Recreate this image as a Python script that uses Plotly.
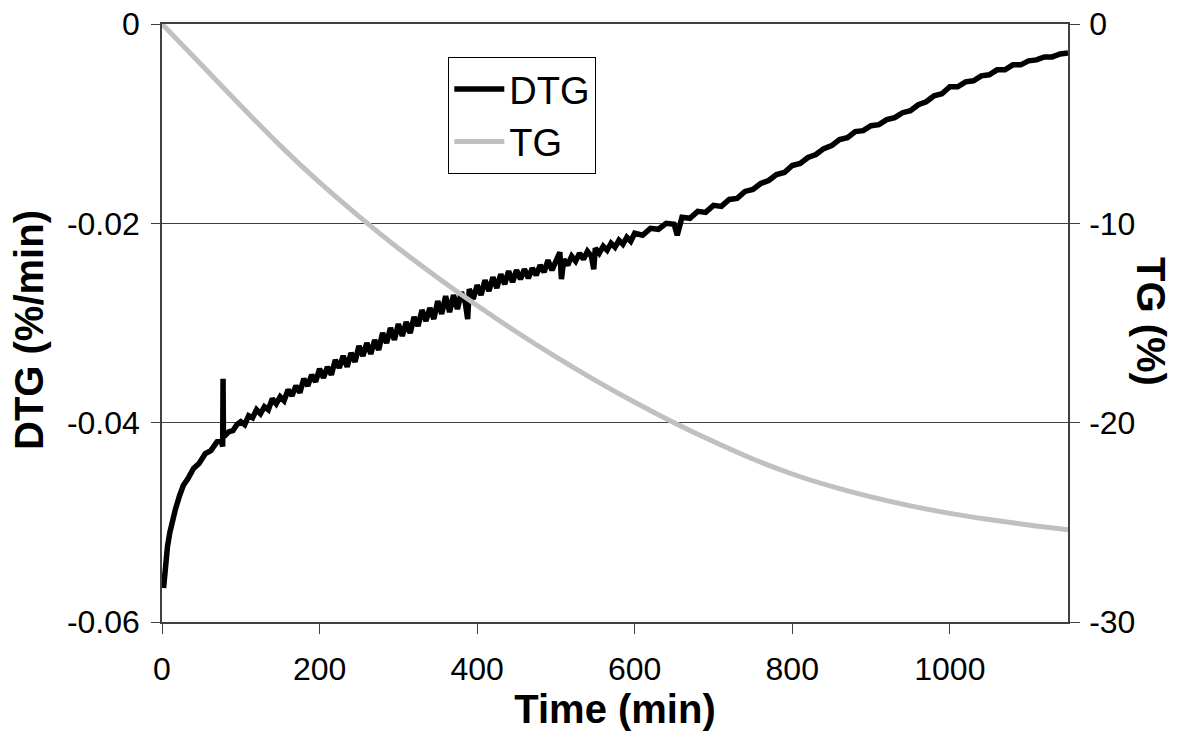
import plotly.graph_objects as go

# ---- data ----
time_dtg = [2, 3, 4, 5, 7, 10, 13, 17, 22, 27, 33, 40, 47, 55, 62, 70, 75, 77, 77.5, 78, 80, 85, 90, 95,
            100, 105, 110, 115, 120, 125, 130, 135, 140, 145, 150, 155, 160, 165, 170, 175, 180, 185, 190, 195,
            200, 205, 210, 215, 220, 225, 230, 235, 240, 245, 250, 255, 260, 265, 270, 275, 280, 285, 290, 295,
            300, 305, 310, 315, 320, 325, 330, 335, 340, 345, 350, 355, 360, 365, 370, 375, 380, 385, 388, 390, 395,
            400, 405, 410, 415, 420, 425, 430, 435, 440, 445, 450, 455, 460, 465, 470, 475, 480, 485, 490, 495,
            500, 505, 507, 510, 515, 520, 525, 530, 535, 540, 545, 548, 550, 555, 560, 565, 570, 575, 580, 585, 590, 595,
            600, 610, 620, 630, 640, 650, 654, 660, 670, 680, 690, 700, 710, 720, 730, 740, 750, 760, 770, 780, 790,
            800, 810, 820, 830, 840, 850, 860, 870, 880, 890, 900, 910, 920, 930, 940, 950, 960, 970, 980, 990,
            1000, 1010, 1020, 1030, 1040, 1050, 1060, 1070, 1080, 1090, 1100, 1110, 1120, 1130, 1140, 1150]

dtg = [-0.0566, -0.0556, -0.0545, -0.0537, -0.0524, -0.0510, -0.0499, -0.0487, -0.0474, -0.0463, -0.0456,
       -0.0446, -0.0441, -0.0431, -0.0428, -0.0419, -0.0418, -0.0424, -0.0356, -0.0414, -0.0413, -0.0409,
       -0.0408, -0.0402,
       -0.0399, -0.0402, -0.0393, -0.0395, -0.0387, -0.0391, -0.0384, -0.0387, -0.0376, -0.0381, -0.0374,
       -0.0378, -0.0367, -0.0373, -0.0363, -0.0370, -0.0356, -0.0363, -0.0352, -0.0359,
       -0.0346, -0.0355, -0.0344, -0.0352, -0.0337, -0.0345, -0.0333, -0.0344, -0.0330, -0.0339, -0.0323,
       -0.0333, -0.0320, -0.0331, -0.0317, -0.0327, -0.0310, -0.0320, -0.0305, -0.0317,
       -0.0301, -0.0313, -0.0299, -0.0310, -0.0294, -0.0303, -0.0287, -0.0298, -0.0285, -0.0296, -0.0278,
       -0.0291, -0.0273, -0.0289, -0.0272, -0.0286, -0.0269, -0.0280, -0.0296, -0.0266, -0.0276,
       -0.0262, -0.0272, -0.0257, -0.0268, -0.0254, -0.0265, -0.0251, -0.0261, -0.0248, -0.0259, -0.0247,
       -0.0256, -0.0246, -0.0255, -0.0245, -0.0252, -0.0242, -0.0249, -0.0237, -0.0247,
       -0.0238, -0.0229, -0.0256, -0.0236, -0.0242, -0.0233, -0.0238, -0.0230, -0.0236, -0.0228, -0.0233,
       -0.0246, -0.0225, -0.0230, -0.0223, -0.0227, -0.0220, -0.0224, -0.0217, -0.0221, -0.0214, -0.0218,
       -0.0210, -0.0212, -0.0205, -0.0206, -0.0200, -0.0201, -0.0212, -0.0194, -0.0195, -0.0188, -0.0189,
       -0.0182, -0.0183, -0.0176, -0.0175, -0.0168, -0.0166, -0.0160, -0.0157, -0.0151, -0.0149,
       -0.0142, -0.0140, -0.0134, -0.0131, -0.0125, -0.0122, -0.0116, -0.0114, -0.0108, -0.0107, -0.0102,
       -0.0101, -0.0096, -0.0094, -0.0089, -0.0087, -0.0081, -0.0078, -0.0072, -0.0070,
       -0.0063, -0.0063, -0.0058, -0.0057, -0.0052, -0.0051, -0.0046, -0.0046, -0.0041, -0.0041, -0.0037,
       -0.0036, -0.0033, -0.0033, -0.0030, -0.0029]

time_tg = [0, 50, 100, 150, 200, 250, 300, 350, 400, 450, 500, 550, 600, 650, 700, 750, 800, 850, 900,
           950, 1000, 1050, 1100, 1150]
tg = [0.0, -2.05, -4.10, -6.10, -7.95, -9.65, -11.25, -12.725, -14.125, -15.45, -16.7, -17.875, -18.975,
      -20.0, -20.95, -21.825, -22.575, -23.2, -23.725, -24.175, -24.55, -24.86, -25.135, -25.375]

x_ticks = [0, 200, 400, 600, 800, 1000]
y_ticks = [0, -0.02, -0.04, -0.06]
y_tick_labels = ["0", "-0.02", "-0.04", "-0.06"]
y2_ticks = [0, -10, -20, -30]
y2_tick_labels = ["0", "-10", "-20", "-30"]

FONT = "Arial, Liberation Sans, sans-serif"
AXC = "#404040"

fig = go.Figure()
fig.add_trace(go.Scatter(x=time_dtg, y=dtg, mode="lines", name="DTG",
                         line=dict(color="black", width=5.5), yaxis="y"))
fig.add_trace(go.Scatter(x=time_tg, y=tg, mode="lines", name="TG", line_shape="spline",
                         line=dict(color="#c0c0c0", width=5), yaxis="y2"))

fig.update_layout(
    width=1177, height=728,
    margin=dict(l=154, r=117, t=16, b=114, autoexpand=False),
    paper_bgcolor="white", plot_bgcolor="white",
    font=dict(family=FONT, color="black", size=32),
    showlegend=True,
    legend=dict(x=0.316, y=0.945, xanchor="left", yanchor="top",
                bgcolor="white", bordercolor="black", borderwidth=1,
                itemwidth=50,
                font=dict(size=38, family=FONT)),
    xaxis=dict(range=[0, 1150], tickvals=x_ticks, ticks="outside", ticklen=10, tickcolor=AXC,
               showline=True, linecolor=AXC, linewidth=1.5, mirror=True, showgrid=False, zeroline=False,
               tickfont=dict(size=32), ticklabelstandoff=8, automargin=False, ticklabeloverflow="allow",
               title=dict(text="<b>Time (min)</b>", font=dict(size=40), standoff=0)),
    yaxis=dict(range=[-0.06, 0], tickvals=y_ticks, ticktext=y_tick_labels, ticks="outside", ticklen=9,
               tickcolor=AXC, showline=True, linecolor=AXC, linewidth=1.5, showgrid=True,
               gridcolor=AXC, gridwidth=1, zeroline=False, tickfont=dict(size=32),
               ticklabelstandoff=5, automargin=False, ticklabeloverflow="allow"),
    yaxis2=dict(range=[-30, 0], tickvals=y2_ticks, ticktext=y2_tick_labels, overlaying="y", side="right",
                ticks="outside", ticklen=10, tickcolor=AXC, showline=True, linecolor=AXC, linewidth=1.5,
                showgrid=False, zeroline=False, tickfont=dict(size=32), ticklabelstandoff=3,
                automargin=False, ticklabeloverflow="allow"),
    annotations=[
        dict(text="<b>DTG (%/min)</b>", textangle=-90, xref="paper", yref="paper",
             x=0.0, xshift=-133, y=0.5, yshift=-7, xanchor="center", yanchor="middle",
             showarrow=False, font=dict(size=40, family=FONT)),
        dict(text="<b>TG (%)</b>", textangle=90, xref="paper", yref="paper",
             x=1.0, xshift=83, y=0.5, yshift=2, xanchor="center", yanchor="middle",
             showarrow=False, font=dict(size=40, family=FONT)),
    ],
)

fig.write_html("out.html")
